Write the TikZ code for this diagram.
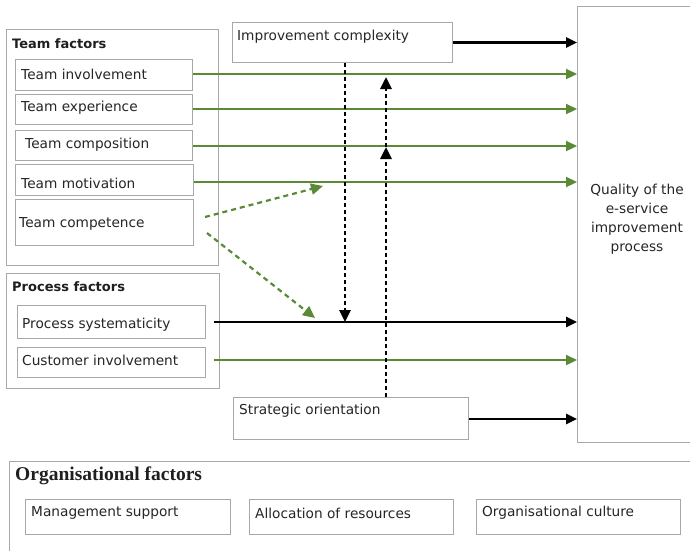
\documentclass[tikz,border=0pt]{standalone}
\usepackage{fontspec}
\setmainfont{DejaVu Sans}
\newfontfamily\titleserif{Liberation Serif}
\usetikzlibrary{arrows.meta}

\definecolor{boxgray}{HTML}{A8A8A8}
\definecolor{txtgray}{HTML}{262626}
\definecolor{factgreen}{HTML}{5A8A36}

\tikzset{
  frame/.style 2 args={draw=boxgray, line width=1pt, fill=white, rectangle,
    anchor=north west, inner sep=0pt, minimum width=#1pt, minimum height=#2pt},
  lbl/.style={anchor=west, inner sep=0pt, text=txtgray,
    font=\fontsize{13.7}{18}\selectfont},
  head/.style={anchor=west, inner sep=0pt, text=black!88,
    font=\fontsize{13}{16}\selectfont\bfseries},
  greenarrow/.style={draw=factgreen, line width=2.2pt,
    -{Triangle[length=11pt,width=10pt]}},
  blackarrow/.style={draw=black, line width=2.5pt,
    -{Triangle[length=11pt,width=10pt]}},
  greendash/.style={draw=factgreen, line width=2.2pt, dash pattern=on 5pt off 4pt,
    -{Triangle[length=12pt,width=11pt]}},
  blackdot/.style={draw=black, line width=2.8pt, dash pattern=on 4pt off 3pt,
    -{Triangle[length=12pt,width=11pt]}},
}

\begin{document}
\begin{tikzpicture}[x=1pt, y=-1pt]
\useasboundingbox (0,0) rectangle (690,550);
\fill[white] (0,0) rectangle (690,550);
\clip (0,0) rectangle (690,550);

% Outcome box
\node[frame={120}{436}] (q) at (577,6) {};
\node[text=txtgray, align=center, inner sep=0pt,
      font=\fontsize{13.7}{19}\selectfont] (qt) at (637,219)
      {Quality of the\\e-service\\improvement\\process};

% Team factors group
\node[frame={212}{236}] (tf) at (6,29) {};
\node[head] (tft) at (12,44) {Team factors};
\node[frame={177}{31}] (ti) at (15,59) {};
\node[lbl] (tit) at (21,74) {Team involvement};
\node[frame={177}{30}] (te) at (15,94) {};
\node[lbl] (tet) at (21,108) {Team experience};
\node[frame={177}{30}] (tc) at (15,130) {};
\node[lbl] (tct) at (25,145) {Team composition};
\node[frame={178}{31}] (tm) at (15,164) {};
\node[lbl] (tmt) at (21,183) {Team motivation};
\node[frame={178}{46}] (tp) at (15,199) {};
\node[lbl] (tpt) at (19,224) {Team competence};

% Process factors group
\node[frame={213}{115}] (pf) at (6,273) {};
\node[head] (pft) at (12,287) {Process factors};
\node[frame={188}{33}] (ps) at (17,305) {};
\node[lbl] (pst) at (22,325) {Process systematicity};
\node[frame={188}{30}] (ci) at (17,347) {};
\node[lbl] (cit) at (22,360) {Customer involvement};

% Moderators
\node[frame={220}{40}] (ic) at (232,22) {};
\node[lbl] (ict) at (237,37) {Improvement complexity};
\node[frame={235}{42}] (so) at (233,397) {};
\node[lbl] (sot) at (239,411) {Strategic orientation};

% Organisational factors group
\node[frame={690}{100}] (of) at (9,461) {};
\node[anchor=west, inner sep=0pt, text=black!88,
      font=\titleserif\fontsize{19.5}{22}\selectfont\bfseries] (oft) at (15,476)
      {Organisational factors};
\node[frame={205}{35}] (ms) at (25,499) {};
\node[lbl] (mst) at (31,513) {Management support};
\node[frame={204}{35}] (ar) at (249,499) {};
\node[lbl] (art) at (255,513) {Allocation of resources};
\node[frame={204}{35}] (oc) at (476,499) {};
\node[lbl] (oct) at (482,513) {Organisational culture};

% Direct effects on the outcome
\draw[blackarrow] (ic.east) -- (ic.east -| q.west);
\draw[greenarrow] (ti.east |- 0,74) -- (q.west |- 0,74);
\draw[greenarrow] (te.east |- 0,109) -- (q.west |- 0,109);
\draw[greenarrow] (tc.east |- 0,146) -- (q.west |- 0,146);
\draw[greenarrow] (tm.east |- 0,182) -- (q.west |- 0,182);
\coordinate (psl) at (214,322);
\coordinate (cil) at (214,360);
\draw[blackarrow] (psl) -- (psl -| q.west);
\draw[greenarrow] (cil) -- (cil -| q.west);
\draw[blackarrow] (so.east |- 0,419) -- (q.west |- 0,419);

% Competence acting through motivation and systematicity
\coordinate (cpa) at (205,217);
\coordinate (cpb) at (207,233);
\coordinate (mtip) at (323,186);
\coordinate (stip) at (315,318);
\draw[greendash] (cpa) -- (mtip);
\draw[greendash] (cpb) -- (stip);

% Moderating effects
\coordinate (dnx) at (345,0);
\draw[blackdot] (ic.south -| dnx) -- (psl -| dnx);
\coordinate (upmid) at (386,147);
\coordinate (uptop) at (386,77);
\draw[blackdot] (so.north -| upmid) -- (upmid);
\draw[blackdot] (upmid) -- (uptop);
\end{tikzpicture}
\end{document}
